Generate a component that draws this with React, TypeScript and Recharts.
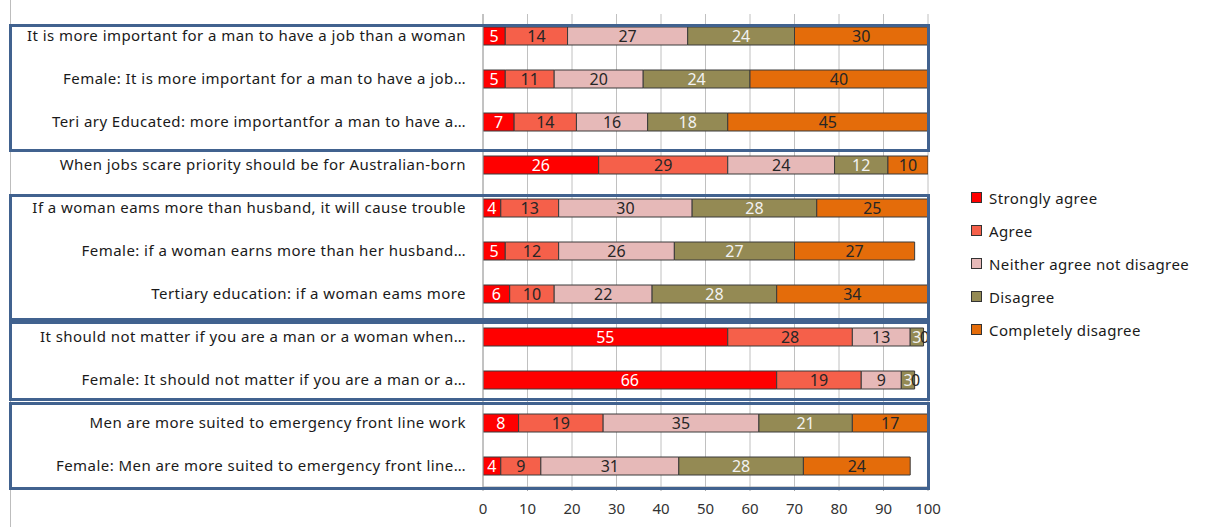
import { BarChart, Bar, XAxis, YAxis, CartesianGrid, LabelList } from 'recharts'

const questions = [
  'It is more important for a man to have a job than a woman',
  'Female: It is more important for a man to have a job…',
  'Teri ary Educated: more importantfor a man to have a…',
  'When jobs scare priority should be for Australian-born',
  'If a woman eams more than husband, it will cause trouble',
  'Female: if a woman earns more than her husband…',
  'Tertiary education: if a woman eams more',
  'It should not matter if you are a man or a woman when…',
  'Female: It should not matter if you are a man or a…',
  'Men are more suited to emergency front line work',
  'Female: Men are more suited to emergency front line…',
]

const stronglyAgree = [5, 5, 7, 26, 4, 5, 6, 55, 66, 8, 4]
const agree = [14, 11, 14, 29, 13, 12, 10, 28, 19, 19, 9]
const neither = [27, 20, 16, 24, 30, 26, 22, 13, 9, 35, 31]
const disagree = [24, 24, 18, 12, 28, 27, 28, 3, 3, 21, 28]
const completelyDisagree = [30, 40, 45, 10, 25, 27, 34, 0, 0, 17, 24]

const xTicks = [0, 10, 20, 30, 40, 50, 60, 70, 80, 90, 100]

const series = [
  { key: 'strong', name: 'Strongly agree', values: stronglyAgree, color: '#ff0000', text: '#ffffff' },
  { key: 'agree', name: 'Agree', values: agree, color: '#f5604a', text: '#262626' },
  { key: 'neither', name: 'Neither agree not disagree', values: neither, color: '#e6b9b8', text: '#262626' },
  { key: 'disagree', name: 'Disagree', values: disagree, color: '#948a54', text: '#f2f2f2' },
  { key: 'complete', name: 'Completely disagree', values: completelyDisagree, color: '#e46c0a', text: '#262626' },
]

const data = questions.map((q, i) => {
  const row: Record<string, string | number> = { question: q }
  series.forEach((s) => {
    row[s.key] = s.values[i]
  })
  return row
})

// group outlines drawn over the chart
const boxes = [
  { top: 25, bottom: 153 },
  { top: 195, bottom: 322 },
  { top: 322, bottom: 402 },
  { top: 403, bottom: 491 },
]

const font = '"Noto Sans", sans-serif'

// zero-width segments get no rectangle, so the segment before them prints their "0"
const makeLabel = (si: number) => (props: any) => {
  const { x, y, width, height, value, index } = props
  if (value === undefined || value === null) return null
  const cx = Number(x) + Number(width) / 2
  const cy = Number(y) + Number(height) / 2
  const next = series[si + 1]
  const zeroNext = next && next.values[index] === 0
  return (
    <g>
      <text x={cx} y={cy} fill={series[si].text} fontSize={16} fontFamily={font} textAnchor="middle" dominantBaseline="central">
        {value}
      </text>
      {zeroNext && (
        <text
          x={Number(x) + Number(width) + 1}
          y={cy}
          fill={next.text}
          fontSize={16}
          fontFamily={font}
          textAnchor="middle"
          dominantBaseline="central"
        >
          0
        </text>
      )}
    </g>
  )
}

export default function App() {
  return (
    <div style={{ position: 'absolute', left: 0, top: 0, width: 1205, height: 527, background: '#fff', fontFamily: font }}>
      <div style={{ position: 'absolute', left: 10, top: 0, width: 1, height: 527, background: '#bdbdbd' }} />
      <BarChart
        width={1205}
        height={527}
        data={data}
        layout="vertical"
        margin={{ top: 14, right: 277, left: 0, bottom: 0 }}
        barSize={18}
      >
        <CartesianGrid horizontal={false} stroke="#c0c0c0" />
        <XAxis
          type="number"
          domain={[0, 100]}
          ticks={xTicks}
          allowDataOverflow
          height={40}
          stroke="#a6a6a6"
          tickSize={4}
          tickMargin={12}
          tick={{ fill: '#333', fontSize: 15, fontFamily: font }}
        />
        <YAxis
          type="category"
          dataKey="question"
          width={483}
          stroke="#a6a6a6"
          tickLine={false}
          tickSize={0}
          tickMargin={17}
          interval={0}
          tick={{ fill: '#1a1a1a', fontSize: 15, fontFamily: font, letterSpacing: 0.45 }}
        />
        {series.map((s, si) => (
          <Bar
            key={s.key}
            dataKey={s.key}
            name={s.name}
            stackId="a"
            fill={s.color}
            stroke="#3a3a3a"
            strokeWidth={1}
            isAnimationActive={false}
          >
            <LabelList dataKey={s.key} content={makeLabel(si)} />
          </Bar>
        ))}
      </BarChart>
      {boxes.map((b, i) => (
        <div
          key={i}
          style={{
            position: 'absolute',
            left: 9,
            top: b.top - 1.5,
            width: 921,
            height: b.bottom - b.top,
            border: '3px solid #41628f',
            boxSizing: 'border-box',
            pointerEvents: 'none',
          }}
        />
      ))}
      <div style={{ position: 'absolute', left: 971, top: 181 }}>
        {series.map((s) => (
          <div
            key={s.key}
            style={{ display: 'flex', alignItems: 'center', height: 33, fontSize: 15, letterSpacing: 0.4, color: '#1a1a1a' }}
          >
            <span
              style={{
                width: 9,
                height: 9,
                background: s.color,
                border: '1px solid #333',
                marginRight: 7,
                display: 'inline-block',
              }}
            />
            {s.name}
          </div>
        ))}
      </div>
    </div>
  )
}
